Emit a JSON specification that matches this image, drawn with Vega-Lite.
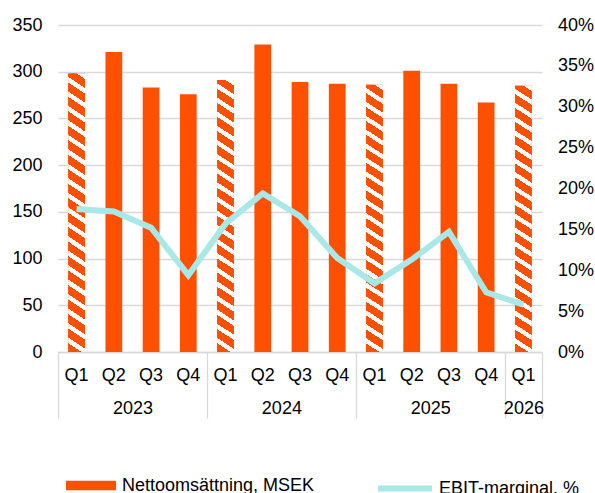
{
  "$schema": "https://vega.github.io/schema/vega-lite/v6.json",
  "width": 484,
  "height": 327,
  "autosize": {"type": "none"},
  "padding": {"left": 58, "top": 25, "right": 53, "bottom": 141},
  "background": "white",
  "config": {"font": "Liberation Sans", "view": {"stroke": null}},
  "data": {"values": [
    {"period": "2023 Q1", "quarter": "Q1", "sales": 298, "ebit": 0.175},
    {"period": "2023 Q2", "quarter": "Q2", "sales": 321, "ebit": 0.172},
    {"period": "2023 Q3", "quarter": "Q3", "sales": 283, "ebit": 0.152},
    {"period": "2023 Q4", "quarter": "Q4", "sales": 276, "ebit": 0.094},
    {"period": "2024 Q1", "quarter": "Q1", "sales": 291, "ebit": 0.157},
    {"period": "2024 Q2", "quarter": "Q2", "sales": 329, "ebit": 0.194},
    {"period": "2024 Q3", "quarter": "Q3", "sales": 289, "ebit": 0.166},
    {"period": "2024 Q4", "quarter": "Q4", "sales": 287, "ebit": 0.115},
    {"period": "2025 Q1", "quarter": "Q1", "sales": 286, "ebit": 0.084},
    {"period": "2025 Q2", "quarter": "Q2", "sales": 301, "ebit": 0.113},
    {"period": "2025 Q3", "quarter": "Q3", "sales": 287, "ebit": 0.147},
    {"period": "2025 Q4", "quarter": "Q4", "sales": 267, "ebit": 0.073},
    {"period": "2026 Q1", "quarter": "Q1", "sales": 285, "ebit": 0.058}
  ]},
  "layer": [
    {
      "mark": {"type": "bar", "width": {"band": 0.45}},
      "encoding": {
        "x": {
          "field": "period", "type": "nominal", "sort": "ascending",
          "scale": {"paddingInner": 0, "paddingOuter": 0},
          "axis": {
            "title": null, "orient": "bottom", "labelExpr": "split(datum.value, ' ')[1]", "labelAngle": 0,
            "ticks": false, "domain": true, "domainColor": "#D9D9D9", "domainWidth": 1.3,
            "labelFontSize": 18, "labelColor": "#000000", "labelPadding": 14, "grid": false
          }
        },
        "y": {
          "field": "sales", "type": "quantitative",
          "scale": {"domain": [0, 350], "nice": false},
          "axis": {
            "title": null, "orient": "left", "values": [0, 50, 100, 150, 200, 250, 300, 350],
            "ticks": false, "domain": false, "grid": true, "gridColor": "#D9D9D9", "gridWidth": 1.3,
            "labelFontSize": 18, "labelColor": "#000000", "labelPadding": 16
          }
        },
        "fill": {
          "datum": "Nettoomsättning, MSEK",
          "scale": {"range": ["#FF5000"]},
          "legend": {
            "title": null, "orient": "none", "legendX": 8, "legendY": 435.5, "padding": 0,
            "labelFontSize": 18, "labelColor": "#000000", "labelOffset": 6, "labelLimit": 400,
            "symbolType": "M-1,-0.19H1V0.19H-1Z", "symbolSize": 2500, "symbolStrokeWidth": 0,
            "symbolOpacity": 1
          }
        }
      }
    },
    {
      "transform": [{"filter": "datum.quarter == 'Q1'"}],
      "mark": {
        "type": "bar", "width": {"band": 0.45},
        "fill": {
          "gradient": "linear", "x1": 0, "y1": 1, "x2": 0.0418, "y2": -0.0386,
          "stops": [
            {"offset": 0, "color": "#FF5000"}, {"offset": 0.031, "color": "#FF5000"}, {"offset": 0.031, "color": "#FFFFFF"}, {"offset": 0.05, "color": "#FFFFFF"},
            {"offset": 0.05, "color": "#FF5000"}, {"offset": 0.081, "color": "#FF5000"}, {"offset": 0.081, "color": "#FFFFFF"}, {"offset": 0.1, "color": "#FFFFFF"},
            {"offset": 0.1, "color": "#FF5000"}, {"offset": 0.131, "color": "#FF5000"}, {"offset": 0.131, "color": "#FFFFFF"}, {"offset": 0.15, "color": "#FFFFFF"},
            {"offset": 0.15, "color": "#FF5000"}, {"offset": 0.181, "color": "#FF5000"}, {"offset": 0.181, "color": "#FFFFFF"}, {"offset": 0.2, "color": "#FFFFFF"},
            {"offset": 0.2, "color": "#FF5000"}, {"offset": 0.231, "color": "#FF5000"}, {"offset": 0.231, "color": "#FFFFFF"}, {"offset": 0.25, "color": "#FFFFFF"},
            {"offset": 0.25, "color": "#FF5000"}, {"offset": 0.281, "color": "#FF5000"}, {"offset": 0.281, "color": "#FFFFFF"}, {"offset": 0.3, "color": "#FFFFFF"},
            {"offset": 0.3, "color": "#FF5000"}, {"offset": 0.331, "color": "#FF5000"}, {"offset": 0.331, "color": "#FFFFFF"}, {"offset": 0.35, "color": "#FFFFFF"},
            {"offset": 0.35, "color": "#FF5000"}, {"offset": 0.381, "color": "#FF5000"}, {"offset": 0.381, "color": "#FFFFFF"}, {"offset": 0.4, "color": "#FFFFFF"},
            {"offset": 0.4, "color": "#FF5000"}, {"offset": 0.431, "color": "#FF5000"}, {"offset": 0.431, "color": "#FFFFFF"}, {"offset": 0.45, "color": "#FFFFFF"},
            {"offset": 0.45, "color": "#FF5000"}, {"offset": 0.481, "color": "#FF5000"}, {"offset": 0.481, "color": "#FFFFFF"}, {"offset": 0.5, "color": "#FFFFFF"},
            {"offset": 0.5, "color": "#FF5000"}, {"offset": 0.531, "color": "#FF5000"}, {"offset": 0.531, "color": "#FFFFFF"}, {"offset": 0.55, "color": "#FFFFFF"},
            {"offset": 0.55, "color": "#FF5000"}, {"offset": 0.581, "color": "#FF5000"}, {"offset": 0.581, "color": "#FFFFFF"}, {"offset": 0.6, "color": "#FFFFFF"},
            {"offset": 0.6, "color": "#FF5000"}, {"offset": 0.631, "color": "#FF5000"}, {"offset": 0.631, "color": "#FFFFFF"}, {"offset": 0.65, "color": "#FFFFFF"},
            {"offset": 0.65, "color": "#FF5000"}, {"offset": 0.681, "color": "#FF5000"}, {"offset": 0.681, "color": "#FFFFFF"}, {"offset": 0.7, "color": "#FFFFFF"},
            {"offset": 0.7, "color": "#FF5000"}, {"offset": 0.731, "color": "#FF5000"}, {"offset": 0.731, "color": "#FFFFFF"}, {"offset": 0.75, "color": "#FFFFFF"},
            {"offset": 0.75, "color": "#FF5000"}, {"offset": 0.781, "color": "#FF5000"}, {"offset": 0.781, "color": "#FFFFFF"}, {"offset": 0.8, "color": "#FFFFFF"},
            {"offset": 0.8, "color": "#FF5000"}, {"offset": 0.831, "color": "#FF5000"}, {"offset": 0.831, "color": "#FFFFFF"}, {"offset": 0.85, "color": "#FFFFFF"},
            {"offset": 0.85, "color": "#FF5000"}, {"offset": 0.881, "color": "#FF5000"}, {"offset": 0.881, "color": "#FFFFFF"}, {"offset": 0.9, "color": "#FFFFFF"},
            {"offset": 0.9, "color": "#FF5000"}, {"offset": 0.931, "color": "#FF5000"}, {"offset": 0.931, "color": "#FFFFFF"}, {"offset": 0.95, "color": "#FFFFFF"},
            {"offset": 0.95, "color": "#FF5000"}, {"offset": 0.981, "color": "#FF5000"}, {"offset": 0.981, "color": "#FFFFFF"}, {"offset": 1, "color": "#FFFFFF"}
          ]
        }
      },
      "encoding": {
        "x": {
          "field": "period", "type": "nominal", "sort": "ascending",
          "axis": {
            "title": null, "orient": "bottom", "labelAngle": 0, "grid": false, "domain": false,
            "tickBand": "extent", "ticks": true, "tickSize": 66, "tickColor": "#D9D9D9", "tickWidth": 1.3,
            "tickOpacity": {"condition": {"test": "datum.value == '2023 Q4' || datum.value == '2024 Q4' || datum.value == '2025 Q4' || datum.value == '2026 Q1' || !isValid(datum.value)", "value": 1}, "value": 0},
            "labelExpr": "datum.value == '2026 Q1' ? '2026' : (test(/Q2$/, datum.value + '') ? slice(datum.value, 0, 4) : '')",
            "labelOffset": {"condition": {"test": "datum.value == '2026 Q1'", "value": 0}, "value": 18.6},
            "labelPadding": -19, "labelFontSize": 18, "labelColor": "#000000"
          }
        },
        "y": {
          "field": "sales", "type": "quantitative",
          "scale": {"domain": [0, 350], "nice": false},
          "axis": null
        }
      }
    },
    {
      "mark": {"type": "line", "strokeWidth": 6},
      "encoding": {
        "x": {"field": "period", "type": "nominal", "sort": "ascending", "axis": null},
        "y": {
          "field": "ebit", "type": "quantitative",
          "scale": {"domain": [0, 0.4], "nice": false},
          "axis": {
            "title": null, "orient": "right", "format": ".0%",
            "values": [0, 0.05, 0.1, 0.15, 0.2, 0.25, 0.3, 0.35, 0.4],
            "ticks": false, "domain": false, "grid": false,
            "labelFontSize": 18, "labelColor": "#000000", "labelPadding": 15.5
          }
        },
        "stroke": {
          "datum": "EBIT-marginal, %",
          "scale": {"range": ["#AAE8E8"]},
          "legend": {
            "title": null, "orient": "none", "legendX": 317, "legendY": 433.5, "padding": 0,
            "labelFontSize": 18, "labelColor": "#000000", "labelOffset": 4, "labelLimit": 400,
            "symbolType": "stroke", "symbolSize": 2916, "symbolStrokeWidth": 6
          }
        }
      }
    }
  ],
  "resolve": {"scale": {"y": "independent"}, "axis": {"x": "independent"}}
}
